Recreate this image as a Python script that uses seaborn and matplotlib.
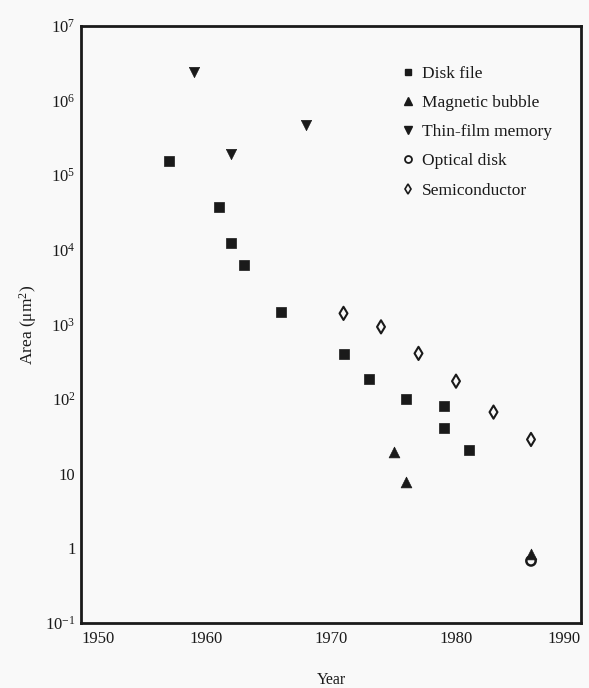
import numpy as np
import pandas as pd
import matplotlib
matplotlib.use("Agg")
import matplotlib.pyplot as plt
from matplotlib.lines import Line2D
import seaborn as sns

# ---- data ----
disk_year = [1957, 1961, 1962, 1963, 1966, 1971, 1973, 1976, 1979, 1979, 1981]
disk_area = [1.56e5, 3.7e4, 1.22e4, 6.2e3, 1.48e3, 400, 185, 101, 81, 40.5, 20.5]

bubble_year = [1975, 1976, 1986]
bubble_area = [19.5, 7.8, 0.85]

thin_year = [1959, 1962, 1968]
thin_area = [2.44e6, 1.92e5, 4.7e5]

optical_year = [1986]
optical_area = [0.68]

semi_year = [1971, 1974, 1977, 1980, 1983, 1986]
semi_area = [1410, 930, 410, 174, 67, 28.8]

series_names = ["Disk file", "Magnetic bubble", "Thin-film memory",
                "Optical disk", "Semiconductor"]

x_ticks = [1950, 1960, 1970, 1980, 1990]
x_ticklabels = ["1950", "1960", "1970", "1980", "1990"]
y_ticks = [1e-1, 1, 10, 1e2, 1e3, 1e4, 1e5, 1e6, 1e7]
y_ticklabels = ["10$^{-1}$", "1", "10", "10$^2$", "10$^3$", "10$^4$",
                "10$^5$", "10$^6$", "10$^7$"]

sns.set_theme(style="white")
plt.rcParams["font.family"] = ["Liberation Serif", "DejaVu Serif"]
plt.rcParams["mathtext.fontset"] = "custom"
plt.rcParams["mathtext.rm"] = "Liberation Serif"
plt.rcParams["mathtext.it"] = "Liberation Serif:italic"
plt.rcParams["mathtext.bf"] = "Liberation Serif:bold"

ink = "#1a1a1a"
bg = "#f9f9f9"

fig = plt.figure(figsize=(5.89, 6.88), dpi=100, facecolor=bg)
ax = fig.add_axes([81 / 589, 1 - 623 / 688, 500 / 589, 597 / 688])
ax.set_facecolor(bg)

frames = {
    "Disk file": pd.DataFrame({"Year": disk_year, "Area": disk_area}),
    "Magnetic bubble": pd.DataFrame({"Year": bubble_year, "Area": bubble_area}),
    "Thin-film memory": pd.DataFrame({"Year": thin_year, "Area": thin_area}),
    "Optical disk": pd.DataFrame({"Year": optical_year, "Area": optical_area}),
    "Semiconductor": pd.DataFrame({"Year": semi_year, "Area": semi_area}),
}

sns.scatterplot(data=frames["Disk file"], x="Year", y="Area", ax=ax,
                marker="s", s=55, color=ink, edgecolor=ink, linewidth=0.5)
sns.scatterplot(data=frames["Magnetic bubble"], x="Year", y="Area", ax=ax,
                marker="^", s=60, color=ink, edgecolor=ink, linewidth=0.5)
sns.scatterplot(data=frames["Thin-film memory"], x="Year", y="Area", ax=ax,
                marker="v", s=55, color=ink, edgecolor=ink, linewidth=0.5)
sns.scatterplot(data=frames["Optical disk"], x="Year", y="Area", ax=ax,
                marker="o", s=45, facecolor="none", edgecolor=ink, linewidth=1.8)
sns.scatterplot(data=frames["Semiconductor"], x="Year", y="Area", ax=ax,
                marker="d", s=45, facecolor="none", edgecolor=ink, linewidth=1.5)

ax.set_yscale("log")
ax.set_xlim(1950, 1990)
ax.set_ylim(1e-1, 1e7)
ax.set_xticks(x_ticks)
ax.set_xticklabels(x_ticklabels)
ax.set_yticks(y_ticks)
ax.set_yticklabels(y_ticklabels)
ax.minorticks_off()
ax.tick_params(axis="both", direction="in", length=9, width=1.5, colors=ink,
               labelsize=12, pad=4)
ax.tick_params(axis="x", pad=6)
xt = ax.get_xticklabels()
xt[0].set_horizontalalignment("left")
xt[-1].set_horizontalalignment("right")

for sp in ax.spines.values():
    sp.set_visible(True)
    sp.set_color(ink)
    sp.set_linewidth(2.0)

ax.set_xlabel("Year", fontsize=11.5, color=ink, labelpad=18)
ax.set_ylabel("Area (μm$^2$)", fontsize=12.5, color=ink, labelpad=4)

handles = [
    Line2D([], [], ls="none", marker="s", ms=5, color=ink),
    Line2D([], [], ls="none", marker="^", ms=6, color=ink),
    Line2D([], [], ls="none", marker="v", ms=6, color=ink),
    Line2D([], [], ls="none", marker="o", ms=5, mfc="none", mec=ink, mew=1.3),
    Line2D([], [], ls="none", marker="d", ms=5, mfc="none", mec=ink, mew=1.2),
]
leg = ax.legend(handles, series_names, loc="upper left",
                bbox_to_anchor=(0.63, 0.945), frameon=False, fontsize=12.5,
                handlelength=0.6, handletextpad=0.5, labelspacing=0.75,
                borderaxespad=0)
for t in leg.get_texts():
    t.set_color(ink)

fig.savefig("out.png", dpi=100, facecolor=bg)
